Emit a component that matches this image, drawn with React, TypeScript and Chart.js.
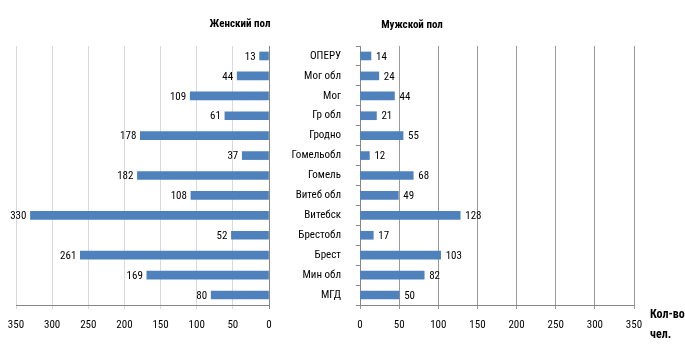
import React, { useEffect, useRef } from "react";
import { Chart, registerables } from "chart.js";

Chart.register(...registerables);

const categories = [
  "ОПЕРУ",
  "Мог обл",
  "Мог",
  "Гр обл",
  "Гродно",
  "Гомельобл",
  "Гомель",
  "Витеб обл",
  "Витебск",
  "Брестобл",
  "Брест",
  "Мин обл",
  "МГД",
];
const femaleValues = [13, 44, 109, 61, 178, 37, 182, 108, 330, 52, 261, 169, 80];
const maleValues = [14, 24, 44, 21, 55, 12, 68, 49, 128, 17, 103, 82, 50];
const xTickValues = [0, 50, 100, 150, 200, 250, 300, 350];
const femaleTitle = "Женский пол";
const maleTitle = "Мужской пол";
const axisTitleLines = ["Кол-во", "чел."];

const FONT = '"Roboto Condensed", "DejaVu Sans Condensed", sans-serif';
const BAR = "#4f81bd";
const AXIS = "#868686";

function valueLabels(side: "left" | "right") {
  return {
    id: "valueLabels_" + side,
    afterDatasetsDraw(chart: any) {
      const ctx = chart.ctx;
      const meta = chart.getDatasetMeta(0);
      const data = chart.data.datasets[0].data as number[];
      ctx.save();
      ctx.font = `11px ${FONT}`;
      ctx.fillStyle = "#000";
      ctx.textBaseline = "middle";
      ctx.textAlign = side === "left" ? "right" : "left";
      meta.data.forEach((el: any, i: number) => {
        const x = side === "left" ? el.x - 4 : el.x + 5;
        ctx.fillText(String(data[i]), x, el.y + 1);
      });
      ctx.restore();
    },
  };
}

function setTicks(scale: any) {
  scale.ticks = xTickValues.map((v) => ({ value: v }));
}

export default function App() {
  const leftRef = useRef<HTMLCanvasElement | null>(null);
  const rightRef = useRef<HTMLCanvasElement | null>(null);

  useEffect(() => {
    const left = new Chart(leftRef.current as HTMLCanvasElement, {
      type: "bar",
      data: {
        labels: categories,
        datasets: [{ data: femaleValues, backgroundColor: BAR, barThickness: 8 }],
      },
      options: {
        indexAxis: "y",
        animation: false,
        responsive: false,
        maintainAspectRatio: false,
        layout: { padding: { left: 16, right: 31, top: 46, bottom: 0 } },
        plugins: { legend: { display: false }, tooltip: { enabled: false } },
        scales: {
          x: {
            type: "linear",
            reverse: true,
            min: 0,
            max: 350,
            afterBuildTicks: setTicks,
            afterFit: (s: any) => {
              s.height = 41;
            },
            grid: {
              color: (c: any) => (c.tick && c.tick.value === 0 ? AXIS : "#d9d9d9"),
              tickLength: 4,
            },
            border: { color: AXIS },
            ticks: { padding: 10, color: "#000", font: { family: FONT, size: 11 } },
          },
          y: { display: false },
        },
      } as any,
      plugins: [valueLabels("left")],
    });

    const right = new Chart(rightRef.current as HTMLCanvasElement, {
      type: "bar",
      data: {
        labels: categories,
        datasets: [{ data: maleValues, backgroundColor: BAR, barThickness: 8 }],
      },
      options: {
        indexAxis: "y",
        animation: false,
        responsive: false,
        maintainAspectRatio: false,
        layout: { padding: { left: 0, right: 51, top: 46, bottom: 0 } },
        plugins: { legend: { display: false }, tooltip: { enabled: false } },
        scales: {
          x: {
            type: "linear",
            min: 0,
            max: 350,
            afterBuildTicks: setTicks,
            afterFit: (s: any) => {
              s.height = 41;
            },
            grid: { color: "#9a9a9a", tickLength: 4 },
            border: { color: AXIS },
            ticks: { padding: 10, color: "#000", font: { family: FONT, size: 11 } },
          },
          y: {
            afterFit: (s: any) => {
              s.width = 90;
            },
            grid: { drawOnChartArea: false, tickLength: 4, color: AXIS, offset: true },
            border: { color: AXIS },
            ticks: { padding: 15, color: "#000", font: { family: FONT, size: 11 } },
          },
        },
      } as any,
      plugins: [valueLabels("right")],
    });

    return () => {
      left.destroy();
      right.destroy();
    };
  }, []);

  const titleStyle: React.CSSProperties = {
    position: "absolute",
    transform: "translateX(-50%)",
    fontFamily: FONT,
    fontWeight: "bold",
    fontSize: 11,
    lineHeight: "14px",
    whiteSpace: "nowrap",
    color: "#000",
  };

  return (
    <div
      style={{
        position: "fixed",
        left: 0,
        top: 0,
        width: 685,
        height: 346,
        background: "#fff",
        overflow: "hidden",
      }}
    >
      <canvas
        ref={leftRef}
        width={300}
        height={346}
        style={{ position: "absolute", left: 0, top: 0, width: 300, height: 346 }}
      />
      <canvas
        ref={rightRef}
        width={415}
        height={346}
        style={{ position: "absolute", left: 270, top: 0, width: 415, height: 346 }}
      />
      <div style={{ ...titleStyle, left: 240, top: 17 }}>{femaleTitle}</div>
      <div style={{ ...titleStyle, left: 412, top: 18 }}>{maleTitle}</div>
      <div
        style={{
          position: "absolute",
          left: 650,
          top: 304,
          fontFamily: FONT,
          fontWeight: "bold",
          fontSize: 12,
          lineHeight: "20px",
          whiteSpace: "nowrap",
          color: "#000",
        }}
      >
        {axisTitleLines.map((t) => (
          <div key={t}>{t}</div>
        ))}
      </div>
    </div>
  );
}
